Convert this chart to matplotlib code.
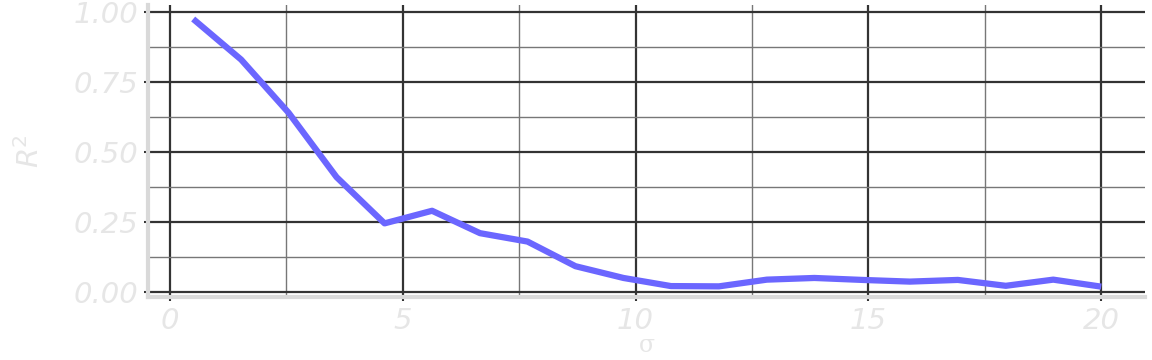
import matplotlib
matplotlib.use("Agg")
import matplotlib.pyplot as plt
from matplotlib.ticker import MultipleLocator

# sigma values (20 evenly spaced samples from 0.5 to 20)
sigma = [0.5, 1.53, 2.55, 3.58, 4.61, 5.63, 6.66, 7.68, 8.71, 9.74,
         10.76, 11.79, 12.82, 13.84, 14.87, 15.89, 16.92, 17.95, 18.97, 20.0]
r2 = [0.975, 0.83, 0.64, 0.41, 0.245, 0.29, 0.21, 0.18, 0.092, 0.05,
      0.021, 0.02, 0.044, 0.05, 0.043, 0.037, 0.043, 0.022, 0.044, 0.019]

x_ticks = [0, 5, 10, 15, 20]
y_ticks = [0.0, 0.25, 0.5, 0.75, 1.0]
y_tick_labels = ["0.00", "0.25", "0.50", "0.75", "1.00"]

light = "#e6e6e6"

fig = plt.figure(figsize=(11.52, 3.6), dpi=100)
ax = fig.add_axes([148 / 1152, 63 / 360, (1145 - 148) / 1152, (297 - 5) / 360])

ax.plot(sigma, r2, color="#6b66ff", linewidth=4.5, solid_capstyle="butt", zorder=3)

ax.set_xlim(-0.47, 20.94)
ax.set_ylim(-0.018, 1.025)

ax.xaxis.set_minor_locator(MultipleLocator(2.5))
ax.yaxis.set_minor_locator(MultipleLocator(0.125))
ax.set_xticks(x_ticks)
ax.set_yticks(y_ticks)
ax.set_yticklabels(y_tick_labels)

ax.grid(which="major", color="#333333", linewidth=1.6)
ax.grid(which="minor", color="#777777", linewidth=1.0)
ax.set_axisbelow(True)

for side in ["top", "right"]:
    ax.spines[side].set_visible(False)
for side in ["left", "bottom"]:
    ax.spines[side].set_color("#d9d9d9")
    ax.spines[side].set_linewidth(3)

ax.tick_params(which="major", length=3, width=1.5, color="#333333",
               labelcolor=light, labelsize=21)
ax.tick_params(axis="x", pad=4)
ax.tick_params(axis="y", pad=4)
ax.tick_params(which="minor", length=0)
for lbl in ax.get_xticklabels() + ax.get_yticklabels():
    lbl.set_fontstyle("italic")

ax.set_xlabel("σ", fontsize=17, color=light, family="DejaVu Serif")
ax.xaxis.set_label_coords(0.5, -0.165)
ax.xaxis.label.set_va("center")
ax.set_ylabel("R$^2$", fontsize=21, color=light, fontstyle="italic")
ax.yaxis.set_label_coords(-0.118, 0.5)
ax.yaxis.label.set_va("center")

fig.savefig("out.png", dpi=100)
